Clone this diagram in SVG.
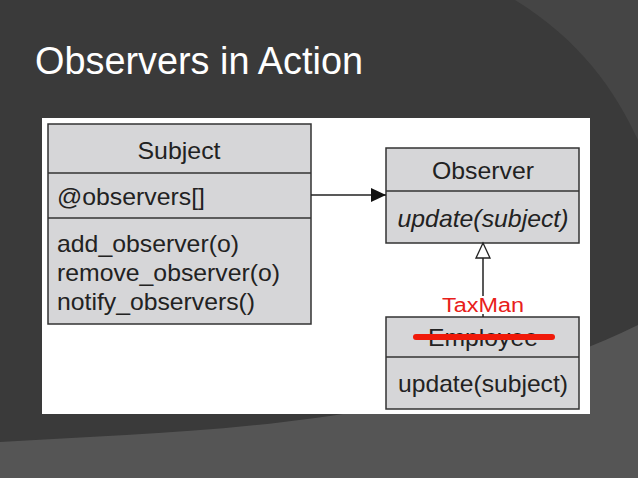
<svg xmlns="http://www.w3.org/2000/svg" width="638" height="478" viewBox="0 0 638 478">
<style>
.box{fill:#d6d6d8;stroke:#333;stroke-width:1.5}
.t{font-family:"Liberation Sans",Arial,sans-serif;font-size:24px;fill:#222}
.c{text-anchor:middle}
</style>
<defs>
<marker id="fa" markerWidth="16" markerHeight="14" refX="15" refY="7" orient="auto" markerUnits="userSpaceOnUse"><path d="M0,0 L15,7 L0,14 z" fill="#111"/></marker>
<marker id="ha" markerWidth="18" markerHeight="18" refX="16" refY="8" orient="auto" markerUnits="userSpaceOnUse"><path d="M1,1 L16,8 L1,15 z" fill="#fff" stroke="#222" stroke-width="1.3"/></marker>
</defs>
<rect width="638" height="478" fill="#3a3a3a"/>
<path d="M515,0 C580,40 615,90 638,140 L638,0 z" fill="#454545"/>
<path d="M0,442 C200,430 420,430 638,325 L638,478 L0,478 z" fill="#555"/>
<text x="35" y="74" font-family="Liberation Sans,Arial,sans-serif" font-size="39" fill="#fff" textLength="328" lengthAdjust="spacingAndGlyphs">Observers in Action</text>
<rect x="42" y="118" width="548" height="296" fill="#fff"/>
<g id="subject">
<rect class="box" x="48" y="124" width="263" height="200"/>
<line x1="48" y1="173" x2="311" y2="173" stroke="#333" stroke-width="1.5"/>
<line x1="48" y1="218" x2="311" y2="218" stroke="#333" stroke-width="1.5"/>
<text class="t c" x="179" y="159" textLength="83" lengthAdjust="spacingAndGlyphs">Subject</text>
<text class="t" x="57" y="205" textLength="148" lengthAdjust="spacingAndGlyphs">@observers[]</text>
<text class="t" x="57" y="252" textLength="182" lengthAdjust="spacingAndGlyphs">add_observer(o)</text>
<text class="t" x="57" y="281" textLength="223" lengthAdjust="spacingAndGlyphs">remove_observer(o)</text>
<text class="t" x="57" y="310" textLength="198" lengthAdjust="spacingAndGlyphs">notify_observers()</text>
</g>
<g id="observer">
<rect class="box" x="386" y="148" width="193" height="95"/>
<line x1="386" y1="191" x2="579" y2="191" stroke="#333" stroke-width="1.5"/>
<text class="t c" x="483" y="179" textLength="102" lengthAdjust="spacingAndGlyphs">Observer</text>
<text class="t c" x="483" y="227" font-style="italic" textLength="171" lengthAdjust="spacingAndGlyphs">update(subject)</text>
</g>
<g id="employee">
<rect class="box" x="386" y="317" width="193" height="92"/>
<line x1="386" y1="357" x2="579" y2="357" stroke="#333" stroke-width="1.5"/>
<text class="t c" x="483" y="346" textLength="110" lengthAdjust="spacingAndGlyphs">Employee</text>
<text class="t c" x="483" y="392" textLength="170" lengthAdjust="spacingAndGlyphs">update(subject)</text>
<line x1="416" y1="337" x2="552" y2="337" stroke="#f01a0a" stroke-width="6" stroke-linecap="round"/>
<text x="483" y="312" text-anchor="middle" font-family="Liberation Sans,Arial,sans-serif" font-size="20" fill="#e8201a" stroke="#fff" stroke-width="0.7" paint-order="stroke" textLength="82" lengthAdjust="spacingAndGlyphs">TaxMan</text>
</g>
<g id="connectors" stroke="#222" stroke-width="1.5" fill="none">
<line x1="311" y1="195" x2="386" y2="195" marker-end="url(#fa)"/>
<line x1="483" y1="296" x2="483" y2="243" marker-end="url(#ha)"/>
<line x1="483" y1="314" x2="483" y2="317"/>
</g>
</svg>
